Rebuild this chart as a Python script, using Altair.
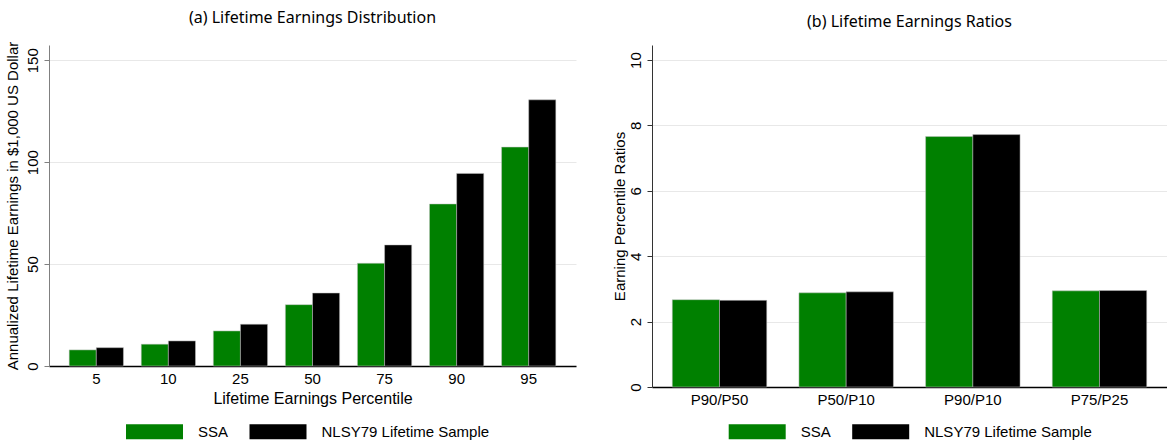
import altair as alt
import pandas as pd

# ---- data ----
pct_labels = ["5", "10", "25", "50", "75", "90", "95"]
ssa_levels = [7.9, 10.7, 17.2, 30.1, 50.4, 79.5, 107.4]
nlsy_levels = [9.0, 12.3, 20.5, 35.8, 59.4, 94.5, 130.6]

ratio_labels = ["P90/P50", "P50/P10", "P90/P10", "P75/P25"]
ssa_ratios = [2.67, 2.88, 7.66, 2.94]
nlsy_ratios = [2.65, 2.91, 7.72, 2.95]

series = ["SSA", "NLSY79 Lifetime Sample"]
colors = ["#008000", "#000000"]

left_ticks = [0, 50, 100, 150]
right_ticks = [0, 2, 4, 6, 8, 10]


def tidy(cats, a, b):
    rows = []
    for c, v1, v2 in zip(cats, a, b):
        rows.append({"cat": c, "series": series[0], "value": v1})
        rows.append({"cat": c, "series": series[1], "value": v2})
    return pd.DataFrame(rows)


df_left = tidy(pct_labels, ssa_levels, nlsy_levels)
df_right = tidy(ratio_labels, ssa_ratios, nlsy_ratios)

AX_FONT = "Liberation Sans, Arial, Helvetica, sans-serif"
TITLE_FONT = "Noto Sans"


def make_legend(lx, ly):
    return alt.Legend(
        title=None, orient="none", legendX=lx, legendY=ly,
        direction="horizontal",
        symbolType="M-1.9,-0.5H1.9V0.5H-1.9Z", symbolSize=900,
        symbolStrokeWidth=0, symbolOpacity=1,
        labelFont=AX_FONT, labelFontSize=15, labelColor="#000000",
        labelOffset=28.5, columnPadding=20.5, labelLimit=400,
    )


color_scale = alt.Scale(domain=series, range=colors)

left = alt.Chart(df_left).mark_bar(stroke="#c4c4c4", strokeWidth=0.5).encode(
    x=alt.X("cat:N", sort=pct_labels,
            scale=alt.Scale(paddingInner=0.247, paddingOuter=0.28),
            axis=alt.Axis(title="Lifetime Earnings Percentile", labelAngle=0,
                          ticks=False, labelFontSize=15, labelPadding=5,
                          titleFontSize=16, titlePadding=4, titleFontWeight="normal",
                          domainColor="#000000", domainWidth=1.5,
                          labelFont=AX_FONT, titleFont=AX_FONT, labelColor="#000", titleColor="#000")),
    xOffset=alt.XOffset("series:N", sort=series, scale=alt.Scale(paddingInner=0, paddingOuter=0)),
    y=alt.Y("value:Q", scale=alt.Scale(domain=[0, 157.5], nice=False, zero=True),
            axis=alt.Axis(title="Annualized Lifetime Earnings in $1,000 US Dollar",
                          values=left_ticks, labelAngle=270, labelAlign="center",
                          labelBaseline="bottom", labelFontSize=15, labelPadding=4,
                          tickSize=5, tickColor="#808080", domainColor="#808080",
                          titleFontSize=15, titlePadding=5, titleFontWeight="normal",
                          gridColor="#e8e8e8", labelFont=AX_FONT, titleFont=AX_FONT,
                          labelColor="#000", titleColor="#000")),
    color=alt.Color("series:N", scale=color_scale, legend=make_legend(90.5, 371.7)),
).properties(
    width=527, height=321,
    title=alt.TitleParams("(a) Lifetime Earnings Distribution", font=TITLE_FONT,
                          fontSize=16, fontWeight="normal", anchor="middle", offset=15, color="#000"),
)

right = alt.Chart(df_right).mark_bar(stroke="#c4c4c4", strokeWidth=0.5).encode(
    x=alt.X("cat:N", sort=ratio_labels,
            scale=alt.Scale(paddingInner=0.254, paddingOuter=0.16),
            axis=alt.Axis(title=None, labelAngle=0, ticks=False, labelFontSize=15,
                          labelPadding=5, domainColor="#000000", domainWidth=1.5,
                          labelFont=AX_FONT, labelColor="#000")),
    xOffset=alt.XOffset("series:N", sort=series, scale=alt.Scale(paddingInner=0, paddingOuter=0)),
    y=alt.Y("value:Q", scale=alt.Scale(domain=[0, 10.46], nice=False, zero=True),
            axis=alt.Axis(title="Earning Percentile Ratios",
                          values=right_ticks, labelAngle=270, labelAlign="center",
                          labelBaseline="bottom", labelFontSize=15, labelPadding=4,
                          tickSize=5, tickColor="#333333", domainColor="#333333",
                          titleFontSize=15, titlePadding=1, titleFontWeight="normal",
                          gridColor="#e8e8e8", labelFont=AX_FONT, titleFont=AX_FONT,
                          labelColor="#000", titleColor="#000")),
    color=alt.Color("series:N", scale=color_scale, legend=make_legend(90.2, 371.7)),
).properties(
    width=515, height=342,
    title=alt.TitleParams("(b) Lifetime Earnings Ratios", font=TITLE_FONT,
                          fontSize=16, fontWeight="normal", anchor="middle", offset=15, color="#000"),
)

chart = alt.hconcat(left, right, spacing=36).resolve_scale(
    color="independent", y="independent", x="independent", xOffset="independent"
).resolve_legend(color="independent").properties(
    padding={"left": 5, "top": 10, "right": 0, "bottom": 0},
    background="#ffffff",
).configure_view(stroke=None)

chart.save("out.html", embed_options={"renderer": "svg", "actions": False})
